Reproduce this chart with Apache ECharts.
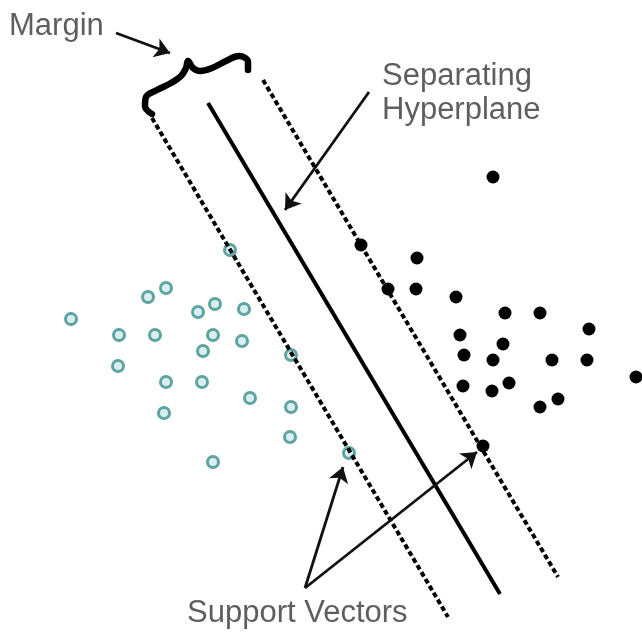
<!DOCTYPE html>
<html>
<head>
<meta charset="utf-8">
<script src="https://cdn.jsdelivr.net/npm/echarts@6/dist/echarts.min.js"></script>
<style>html,body{margin:0;padding:0;background:#fff;}#c{width:642px;height:634px;}</style>
</head>
<body>
<div id="c"></div>
<script>
// Class A (open teal circles) points [x, y]
const openPoints = [
  [230,250],[166,288],[148,297],[71,319],[198,312],[215,304],[244,309],
  [119,335],[155,335],[213,335],[242,341],[203,351],[291,355],[118,366],
  [166,382],[202,382],[250,398],[291,407],[164,413],[290,437],[213,462],[349,453]
];
// Class B (filled black circles)
const filledPoints = [
  [493,177],[361,245],[417,258],[388,289],[416,289],[456,297],[505,313],
  [540,313],[589,329],[460,335],[503,344],[464,355],[493,360],[552,360],
  [587,360],[636,377],[463,386],[509,383],[492,391],[558,399],[540,407],[483,446]
];
// Separating hyperplane and margin boundaries
const hyperplane = [[208,103],[500,594]];
const marginLeft = [[152,118],[448,617]];
const marginRight = [[263,80],[558,577]];
// Curly brace (margin)
const bracePath = [[152,114],[145,106],[146,97],[157,90],[171,83],[181,76],[186,68],[188,61],
  [193,68],[200,71],[212,68],[226,61],[239,56],[248,62],[248,70]];
// Annotation arrows [from, to]
const arrows = [
  [[116,33],[170,53]],
  [[369,92],[285,210]],
  [[305,588],[343,467]],
  [[305,588],[477,452]]
];
// Text labels [x, y, text]
const labels = [
  [9,26,'Margin'],
  [382,76,'Separating'],
  [382,110,'Hyperplane'],
  [187,613,'Support Vectors']
];

const chart = echarts.init(document.getElementById('c'));
const lineSeries = (data, type, width) => ({
  type: 'line', data: data, symbol: 'none', silent: true, z: 4,
  lineStyle: { color: '#000', width: width, type: type, cap: 'butt' }
});
chart.setOption({
  animation: false,
  backgroundColor: '#fff',
  grid: { left: 0, right: 0, top: 0, bottom: 0 },
  xAxis: { type: 'value', min: 0, max: 642, show: false },
  yAxis: { type: 'value', min: 0, max: 634, inverse: true, show: false },
  series: [
    {
      type: 'scatter', data: openPoints, symbol: 'circle', symbolSize: 11, z: 2,
      itemStyle: { color: '#d9eeee', borderColor: '#5fa3a3', borderWidth: 3, opacity: 1 }
    },
    {
      type: 'scatter', data: filledPoints, symbol: 'circle', symbolSize: 13, z: 2,
      itemStyle: { color: '#000', opacity: 1 }
    },
    lineSeries(hyperplane, 'solid', 4),
    lineSeries(marginLeft, [5, 3], 4),
    lineSeries(marginRight, [5, 3], 4),
    {
      type: 'line', data: bracePath, symbol: 'none', smooth: 0.4, z: 4,
      lineStyle: { color: '#000', width: 6.5, cap: 'round', join: 'round' }
    },
    {
      type: 'lines', coordinateSystem: 'cartesian2d', z: 5,
      symbol: ['none', 'arrow'], symbolSize: 15,
      lineStyle: { color: '#111', width: 2.8, opacity: 1 },
      data: arrows.map(a => ({ coords: a }))
    },
    {
      type: 'scatter', symbolSize: 0, z: 6,
      data: labels.map(l => ({ value: [l[0], l[1]], name: l[2] })),
      label: {
        show: true, position: 'inside', align: 'left', verticalAlign: 'middle',
        formatter: p => p.name,
        fontFamily: 'Liberation Sans, Arial, sans-serif', fontSize: 31, color: '#363636'
      }
    }
  ]
});
</script>
</body>
</html>
